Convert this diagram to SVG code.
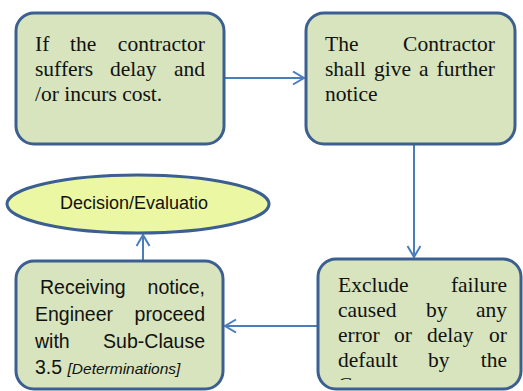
<svg xmlns="http://www.w3.org/2000/svg" width="523" height="391" viewBox="0 0 523 391">
<style>
.box{fill:#d7e4bd;stroke:#3c5f92;stroke-width:3}
.ell{fill:#ebf7a3;stroke:#3c5f92;stroke-width:3}
.serif{font-family:"Liberation Serif","Times New Roman",serif;font-size:21.5px;fill:#111}
.sans{font-family:"Liberation Sans",Arial,sans-serif;font-size:19.5px;fill:#111}
.it{font-style:italic;font-size:15.5px}
.conn{stroke:#4a7ebb;stroke-width:2;fill:none}
.e{text-anchor:end}
</style>
<defs>
<marker id="arr" markerUnits="userSpaceOnUse" markerWidth="14" markerHeight="16" refX="12" refY="7" orient="auto" viewBox="0 0 14 16">
<path d="M1,0.5 L12,7 L1,13.5" fill="none" stroke="#4a7ebb" stroke-width="2"/>
</marker>
<clipPath id="cl3"><rect x="318" y="259" width="203" height="121"/></clipPath>
</defs>
<g id="connectors">
<line class="conn" x1="225" y1="78" x2="304" y2="78" marker-end="url(#arr)"/>
<line class="conn" x1="414" y1="145" x2="414" y2="257" marker-end="url(#arr)"/>
<line class="conn" x1="317" y1="326" x2="225" y2="326" marker-end="url(#arr)"/>
<line class="conn" x1="143" y1="260" x2="143" y2="235" marker-end="url(#arr)"/>
</g>
<g id="n1">
<rect class="box" x="16" y="13" width="208" height="131" rx="18"/>
<text class="serif"><tspan x="35" y="51">If</tspan><tspan x="70" y="51">the</tspan><tspan class="e" x="205" y="51">contractor</tspan></text>
<text class="serif"><tspan x="35" y="76">suffers</tspan><tspan x="110" y="76">delay</tspan><tspan class="e" x="205" y="76">and</tspan></text>
<text class="serif" x="35" y="101">/or incurs cost.</text>
</g>
<g id="n2">
<rect class="box" x="306" y="13" width="209" height="131" rx="18"/>
<text class="serif"><tspan x="325" y="51">The</tspan><tspan class="e" x="495" y="51">Contractor</tspan></text>
<text class="serif"><tspan x="325" y="76">shall</tspan><tspan x="374" y="76">give</tspan><tspan x="419" y="76">a</tspan><tspan class="e" x="495" y="76">further</tspan></text>
<text class="serif" x="325" y="101">notice</text>
</g>
<g id="n3">
<rect class="box" x="318" y="259" width="203" height="130" rx="18"/>
<text class="serif"><tspan x="338" y="292">Exclude</tspan><tspan class="e" x="507" y="292">failure</tspan></text>
<text class="serif"><tspan x="338" y="317">caused</tspan><tspan x="426" y="317">by</tspan><tspan class="e" x="507" y="317">any</tspan></text>
<text class="serif"><tspan x="338" y="342">error</tspan><tspan x="394" y="342">or</tspan><tspan x="427" y="342">delay</tspan><tspan class="e" x="507" y="342">or</tspan></text>
<text class="serif"><tspan x="338" y="367">default</tspan><tspan x="428" y="367">by</tspan><tspan class="e" x="507" y="367">the</tspan></text>
<text class="serif" x="338" y="392" clip-path="url(#cl3)">Contractor</text>
</g>
<g id="n4">
<rect class="box" x="16" y="261" width="207" height="128" rx="18"/>
<text class="sans"><tspan x="40" y="294">Receiving</tspan><tspan class="e" x="205" y="294">notice,</tspan></text>
<text class="sans"><tspan x="35" y="321">Engineer</tspan><tspan class="e" x="205" y="321">proceed</tspan></text>
<text class="sans"><tspan x="35" y="348">with</tspan><tspan class="e" x="205" y="348">Sub-Clause</tspan></text>
<text class="sans" x="35" y="374">3.5 <tspan class="it">[Determinations]</tspan></text>
</g>
<g id="n5">
<ellipse class="ell" cx="138" cy="204" rx="131" ry="29"/>
<text class="sans" x="134" y="209" text-anchor="middle" style="font-size:18px">Decision/Evaluatio</text>
</g>
</svg>
